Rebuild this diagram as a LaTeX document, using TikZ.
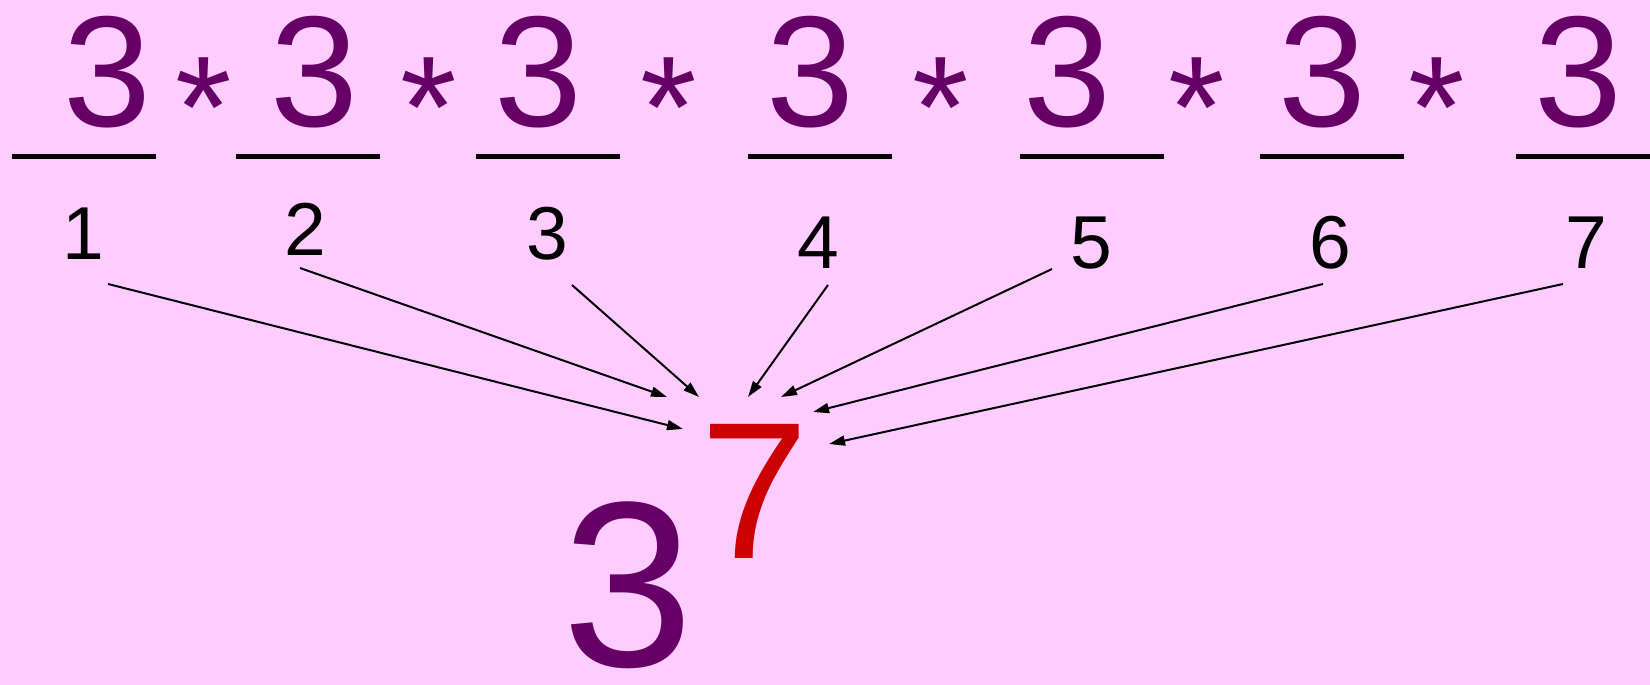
\documentclass[tikz,border=0pt]{standalone}
\usepackage{fontspec}
\setmainfont{Liberation Sans}
\usetikzlibrary{arrows.meta}
\definecolor{bg_pink}{RGB}{255, 204, 255}
\definecolor{base_purple}{RGB}{102, 0, 102}
\definecolor{exp_red}{RGB}{204, 0, 0}

\begin{document}
\begin{tikzpicture}[
    % Styles
    x=1pt, y=-1pt,
    >={Triangle[length=16pt,width=10pt]},
    % Factors
    factor/.style={
        text=base_purple,
        font=\fontsize{158}{158}\selectfont,
        inner sep=0pt,
        anchor=base
    },
    times_sign/.style={
        factor,
        font=\fontsize{145}{145}\selectfont,
        anchor=north
    },
    slot_line/.style={
        line width=5pt,
        draw=black
    },
    slot_num/.style={
        text=black,
        font=\fontsize{75}{75}\selectfont,
        inner sep=0pt,
        anchor=base
    },
    pointer/.style={
        ->,
        line width=2pt,
        draw=black
    }
]

% --- CANVAS ---
\useasboundingbox (0,0) rectangle (1650,685);
\fill[bg_pink] (0,0) rectangle (1650,685);

% --- LAYOUT ---

% 1. Factors (Top Row)
\node[factor] (f1) at (107,126) {3};
\node[factor] (f2) at (314,126) {3};
\node[factor] (f3) at (538,126) {3};
\node[factor] (f4) at (810,126) {3};
\node[factor] (f5) at (1067,126) {3};
\node[factor] (f6) at (1322,126) {3};
\node[factor] (f7) at (1578,126) {3};

\node[times_sign] (x1) at (204,58) {*};
\node[times_sign] (x2) at (429,58) {*};
\node[times_sign] (x3) at (669,58) {*};
\node[times_sign] (x4) at (941,58) {*};
\node[times_sign] (x5) at (1197,58) {*};
\node[times_sign] (x6) at (1437,58) {*};

% 2. Slots (Lines + Counters)
\draw[slot_line] (12,156) -- (156,156);
\draw[slot_line] (236,156) -- (380,156);
\draw[slot_line] (476,156) -- (620,156);
\draw[slot_line] (748,156) -- (892,156);
\draw[slot_line] (1020,156) -- (1164,156);
\draw[slot_line] (1260,156) -- (1404,156);
\draw[slot_line] (1516,156) -- (1660,156);

\node[slot_num] (n1) at (83,259) {1};
\node[slot_num] (n2) at (305,255) {2};
\node[slot_num] (n3) at (547,259) {3};
\node[slot_num] (n4) at (818,268) {4};
\node[slot_num] (n5) at (1091,268) {5};
\node[slot_num] (n6) at (1330,268) {6};
\node[slot_num] (n7) at (1586,268) {7};

% 3. Power (Bottom Center)
\node[factor, font=\fontsize{236}{236}\selectfont] (base) at (628,666) {3};
\node[factor, text=exp_red, font=\fontsize{195}{195}\selectfont] (expo) at (755,558) {7};

% --- ARROWS ---
% Tails under the counters, tips gathered round the exponent
\coordinate (tail1) at (108,284);
\coordinate (tail2) at (300,268);
\coordinate (tail3) at (572,285);
\coordinate (tail4) at (828,285);
\coordinate (tail5) at (1052,269);
\coordinate (tail6) at (1323,284);
\coordinate (tail7) at (1563,284);

\coordinate (tip1) at (683,429);
\coordinate (tip2) at (667,397);
\coordinate (tip3) at (699,397);
\coordinate (tip4) at (748,397);
\coordinate (tip5) at (781,397);
\coordinate (tip6) at (813,412);
\coordinate (tip7) at (829,444);

\draw[pointer] (tail1) -- (tip1);
\draw[pointer] (tail2) -- (tip2);
\draw[pointer] (tail3) -- (tip3);
\draw[pointer] (tail4) -- (tip4);
\draw[pointer] (tail5) -- (tip5);
\draw[pointer] (tail6) -- (tip6);
\draw[pointer] (tail7) -- (tip7);

\end{tikzpicture}
\end{document}
